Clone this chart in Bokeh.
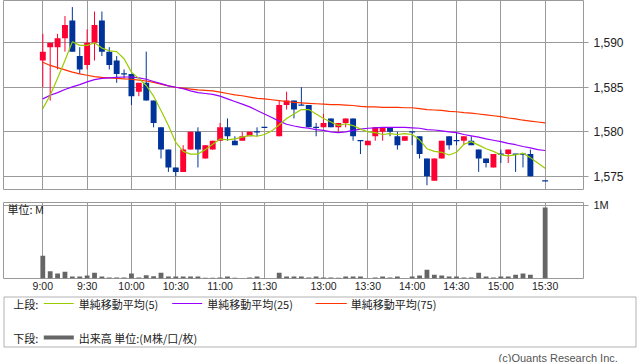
from bokeh.plotting import figure
from bokeh.models import Range1d, FixedTicker, NumeralTickFormatter, Label, BoxAnnotation
from bokeh.layouts import column
from bokeh.embed import file_html
from bokeh.resources import INLINE
from bokeh.core.properties import value

# ---------------- data (5-minute slots, slot index 0 = 9:00) ----------------
tick_slots = [0, 6, 12, 18, 24, 30, 38, 44, 50, 56, 62, 68]
tick_labels = ["9:00", "9:30", "10:00", "10:30", "11:00", "11:30",
               "13:00", "13:30", "14:00", "14:30", "15:00", "15:30"]
price_ticks = [1575, 1580, 1585, 1590]

opens = [1588, 1589.5, 1589.5, 1590.5, 1592.5, 1588.5, 1587.5, 1590, 1592.5, 1589,
         1588, 1586.5, 1586.5, 1584.5, 1585.5, 1583.5, 1580.5, 1578, 1576, 1575.5,
         1578, 1580, 1577, 1578, 1579, 1580.5, 1579, 1579, 1579.5, 1580,
         1580.5, None, 1579.5, 1583, 1583.5, 1583, 1583, 1580.5, 1580.5, 1581.5,
         1580.5, 1581, 1581.5, 1579, 1578.5, 1579.5, 1580, 1580.5, 1579.5, 1579,
         1580, 1579.5, 1577, 1574.5, 1577, 1579.5, 1579, 1579, 1579, 1578,
         1577, 1576, 1577.5, 1577.5, 1577.5, 1577.5, 1577.5, None, 1574.5]
highs = [1591, 1590, 1591, 1593, 1594, 1589.5, 1591.5, 1593.5, 1593.5, 1589.5,
         1588.5, 1587, 1586.5, 1585.5, 1589, 1583.5, 1580.5, 1578, 1576, 1578.5,
         1580, 1580.5, 1578.5, 1579, 1581, 1581.5, 1579.5, 1580, 1580, 1580.5,
         1580.5, None, 1583.5, 1584.5, 1583.5, 1585, 1583, 1581, 1582, 1581.5,
         1581, 1581.5, 1581.5, 1579, 1579, 1580.5, 1580.5, 1580.5, 1580, 1579.5,
         1580, 1579.5, 1577, 1577, 1579, 1579.5, 1580, 1579.5, 1579.5, 1578,
         1577, 1577.5, 1578, 1578, 1577.5, 1577.5, 1578, None, 1574.5]
lows = [1585, 1583.5, 1587, 1589, 1589, 1586.5, 1587, 1588, 1588.5, 1587,
        1585.5, 1586, 1583, 1584, 1583.5, 1580.5, 1577, 1575.5, 1575, 1575.5,
        1578, 1576, 1577, 1578, 1579, 1579, 1578.5, 1579, 1579.5, 1579.5,
        1580.5, None, 1579.5, 1582.5, 1581.5, 1583, 1580.5, 1579.5, 1580.5, 1580.5,
        1580, 1580.5, 1579, 1577.5, 1578.5, 1579, 1579, 1579.5, 1578, 1579,
        1578.5, 1577, 1574, 1574.5, 1577, 1578, 1578.5, 1578.5, 1578.5, 1575.5,
        1576, 1576, 1576.5, 1576.5, 1575.5, 1576, 1575, None, 1574.5]
closes = [1589, 1590, 1590.5, 1592, 1589, 1587, 1590, 1592, 1589, 1587.5,
          1586.5, 1586.5, 1584, 1585.5, 1583.5, 1581, 1578, 1576, 1575.5, 1578,
          1580, 1578, 1578.5, 1579, 1580.5, 1579.5, 1578.5, 1579.5, 1580, 1580,
          1580.5, None, 1583, 1583.5, 1582.5, 1583, 1580.5, 1580.5, 1581, 1580.5,
          1581, 1581.5, 1579.5, 1579, 1579, 1580.5, 1580.5, 1580, 1578.5, 1579.5,
          1580, 1577.5, 1575, 1577, 1579, 1578.5, 1579, 1579.5, 1578.5, 1577,
          1576.5, 1577.5, 1577.5, 1578, 1577.5, 1577.5, 1575, None, 1574.5]

sma5 = [1582.6, 1584.1, 1586.0, 1588.0, 1590.1, 1589.7, 1589.7, 1590.0, 1589.4, 1589.1,
        1589.0, 1588.2, 1586.7, 1586.0, 1585.2, 1584.0, 1582.4, 1580.7, 1578.8, 1577.8,
        1577.5, 1577.5, 1578.0, 1578.6, 1579.2, 1579.1, 1579.2, 1579.4, 1579.6, 1579.5,
        1579.7, 1580.1, 1580.8, 1581.5, 1582.0, 1582.5, 1582.5, 1582.0, 1581.5, 1581.1,
        1580.7, 1580.9, 1580.7, 1580.3, 1580.0, 1579.9, 1579.7, 1579.8, 1579.7, 1579.8,
        1579.7, 1579.1, 1578.1, 1577.8, 1577.7, 1577.4, 1577.7, 1578.6, 1578.9, 1578.5,
        1578.1, 1577.8, 1577.4, 1577.3, 1577.4, 1577.6, 1577.1, 1576.5, 1575.9]
sma25 = [1583.7, 1584.1, 1584.4, 1584.75, 1585.05, 1585.3, 1585.6, 1585.85, 1586.0, 1586.05,
         1586.1, 1586.15, 1586.15, 1586.05, 1585.9, 1585.65, 1585.4, 1585.15, 1585.0, 1584.85,
         1584.6, 1584.4, 1584.3, 1584.2, 1584.0, 1583.7, 1583.4, 1583.1, 1582.8, 1582.4,
         1582.0, 1581.6, 1581.2, 1580.85, 1580.65, 1580.5, 1580.4, 1580.25, 1580.15, 1580.0,
         1579.9, 1580.0, 1580.15, 1580.3, 1580.4, 1580.45, 1580.5, 1580.5, 1580.5, 1580.5,
         1580.45, 1580.4, 1580.25, 1580.2, 1580.1, 1580.0, 1579.9, 1579.7, 1579.55, 1579.4,
         1579.2, 1579.05, 1578.9, 1578.7, 1578.55, 1578.35, 1578.2, 1578.0, 1577.9]
sma75 = [1587.8, 1587.45, 1587.2, 1586.95, 1586.7, 1586.5, 1586.35, 1586.2, 1586.1, 1586.05,
         1586.0, 1585.95, 1585.9, 1585.8, 1585.7, 1585.55, 1585.35, 1585.15, 1585.0, 1584.9,
         1584.8, 1584.7, 1584.65, 1584.6, 1584.45, 1584.3, 1584.15, 1584.05, 1583.9, 1583.75,
         1583.7, 1583.6, 1583.5, 1583.4, 1583.3, 1583.25, 1583.2, 1583.15, 1583.1, 1583.05,
         1583.05, 1583.0, 1582.95, 1582.85, 1582.8, 1582.8, 1582.75, 1582.75, 1582.75, 1582.7,
         1582.7, 1582.6, 1582.5, 1582.45, 1582.4, 1582.3, 1582.25, 1582.15, 1582.1, 1582.0,
         1581.9, 1581.8, 1581.7, 1581.55, 1581.45, 1581.3, 1581.2, 1581.1, 1581.0]

volumes = [0.31, 0.098, 0.067, 0.093, 0.027, 0.027, 0.04, 0.08, 0.027, 0.013,
           0.013, 0.013, 0.067, 0.013, 0.044, 0.031, 0.08, 0.027, 0.027, 0.027,
           0.027, 0.027, 0.009, 0.009, 0.013, 0.027, 0.009, 0.004, 0.013, 0.027,
           0.004, 0.0, 0.08, 0.027, 0.027, 0.027, 0.013, 0.027, 0.013, 0.013,
           0.009, 0.027, 0.027, 0.027, 0.004, 0.013, 0.027, 0.013, 0.027, 0.004,
           0.027, 0.04, 0.12, 0.053, 0.04, 0.027, 0.027, 0.013, 0.013, 0.08,
           0.027, 0.013, 0.027, 0.027, 0.053, 0.067, 0.053, 0.0, 0.97]

legend_upper = ["単純移動平均(5)", "単純移動平均(25)", "単純移動平均(75)"]
legend_lower = "出来高 単位:(M株/口/枚)"

# ---------------- styles ----------------
UP = "#FF0033"
DOWN = "#003399"
C5, C25, C75 = "#99CC00", "#9900FF", "#FF3300"
GRID = "#9a9a9a"
JP = value("Noto Sans CJK JP")
NUM_FONT = "Liberation Sans"

slots = list(range(len(opens)))
X_RANGE = Range1d(-5.32, 73.19)

# ---------------- price panel ----------------
p = figure(width=638, height=190, x_range=X_RANGE, y_range=Range1d(1573.41, 1594.74),
           output_backend="svg", toolbar_location=None, x_axis_location=None,
           y_axis_location="right", min_border_left=3, min_border_right=55,
           min_border_top=0, min_border_bottom=0)
p.outline_line_color = GRID
p.xgrid.ticker = FixedTicker(ticks=tick_slots)
p.ygrid.ticker = FixedTicker(ticks=price_ticks)
p.grid.grid_line_color = GRID
p.yaxis.ticker = FixedTicker(ticks=price_ticks)
p.yaxis.formatter = NumeralTickFormatter(format="0,0")
p.yaxis.axis_line_color = None
p.yaxis.major_tick_in = 0
p.yaxis.major_tick_out = 5
p.yaxis.major_tick_line_color = GRID
p.yaxis.minor_tick_line_color = None
p.yaxis.major_label_standoff = 5
p.yaxis.major_label_text_font_size = "12px"
p.yaxis.major_label_text_font = NUM_FONT
p.yaxis.major_label_text_color = "#222222"

xs, hi, lo, top, bot, col = [], [], [], [], [], []
dx, dy, dcol = [], [], []
for i, o, h, l, c in zip(slots, opens, highs, lows, closes):
    if o is None:
        continue
    color = UP if c > o else DOWN
    xs.append(i); hi.append(h); lo.append(l); col.append(color)
    top.append(max(o, c)); bot.append(min(o, c))
    if o == c:
        dx.append(i); dy.append(o); dcol.append(color)

p.segment(x0=xs, y0=hi, x1=xs, y1=lo, line_color=col, line_width=1)
p.vbar(x=xs, width=0.8, top=top, bottom=bot, fill_color=col, line_color=None)
p.segment(x0=[x - 0.4 for x in dx], y0=dy, x1=[x + 0.4 for x in dx], y1=dy,
          line_color=dcol, line_width=1.2)

p.line(slots, sma75, line_color=C75, line_width=1.2)
p.line(slots, sma25, line_color=C25, line_width=1.2)
p.line(slots, sma5, line_color=C5, line_width=1.2)

# ---------------- volume panel ----------------
v = figure(width=638, height=104, x_range=X_RANGE, y_range=Range1d(0, 1.04),
           output_backend="svg", toolbar_location=None, y_axis_location="right",
           min_border_left=3, min_border_right=55, min_border_top=12, min_border_bottom=14)
v.outline_line_color = GRID
v.xgrid.ticker = FixedTicker(ticks=tick_slots)
v.ygrid.ticker = FixedTicker(ticks=[1.0])
v.grid.grid_line_color = GRID
v.vbar(x=slots, width=0.65, top=volumes, bottom=0, fill_color="#666666", line_color=None)

v.xaxis.ticker = FixedTicker(ticks=tick_slots)
v.xaxis.major_label_overrides = {s: t for s, t in zip(tick_slots, tick_labels)}
v.xaxis.axis_line_color = None
v.xaxis.major_tick_out = 0
v.xaxis.major_tick_in = 0
v.xaxis.minor_tick_line_color = None
v.xaxis.major_label_standoff = 1
v.xaxis.major_label_text_font_size = "10.5px"
v.xaxis.major_label_text_font = NUM_FONT
v.xaxis.major_label_text_color = "#222222"

v.yaxis.ticker = FixedTicker(ticks=[1.0])
v.yaxis.major_label_overrides = {1: "1M"}
v.yaxis.axis_line_color = None
v.yaxis.major_tick_in = 0
v.yaxis.major_tick_out = 5
v.yaxis.major_tick_line_color = GRID
v.yaxis.minor_tick_line_color = None
v.yaxis.major_label_standoff = 5
v.yaxis.major_label_text_font_size = "11px"
v.yaxis.major_label_text_font = NUM_FONT
v.yaxis.major_label_text_color = "#222222"

v.add_layout(Label(x=-4.78, y=0.956, text="単位: M", text_font_size="11px",
                   text_baseline="middle", text_font="Noto Sans CJK JP",
                   text_color="#222222"))

# ---------------- legend box ----------------
lg = figure(width=638, height=68, x_range=Range1d(0, 638), y_range=Range1d(0, 68),
            output_backend="svg", toolbar_location=None, x_axis_location=None,
            y_axis_location=None, min_border=0)
lg.outline_line_color = None
lg.xgrid.visible = False
lg.ygrid.visible = False
lg.add_layout(BoxAnnotation(left=3.5, right=635.5, bottom=15.5, top=65.5,
                            fill_color=None, line_color="#000000", line_width=1))
row1, row2 = 59, 25
txt = dict(text_font=JP, text_font_size="11px", text_baseline="middle",
           text_color="#222222")
lg.text(x=[12.7, 78.3, 206.7, 350.3], y=[row1] * 4,
        text=["上段:"] + legend_upper, **txt)
lg.segment(x0=[43.3, 171.7, 315.0], x1=[73.3, 201.7, 346.3], y0=[row1] * 3, y1=[row1] * 3,
           line_color=[C5, C25, C75], line_width=1.2)
lg.text(x=[12.7, 78.3], y=[row2] * 2, text=["下段:", legend_lower], **txt)
lg.segment(x0=[43.3], x1=[73.3], y0=[row2], y1=[row2], line_color="#666666", line_width=4)
lg.text(x=[617.3], y=[5], text=["(c)Quants Research Inc."], text_align="right",
        text_baseline="middle", text_font=value(NUM_FONT), text_font_size="11px",
        text_color="#555555")

layout = column(column(p, v), lg)
open("out.html", "w").write(file_html(layout, INLINE))
